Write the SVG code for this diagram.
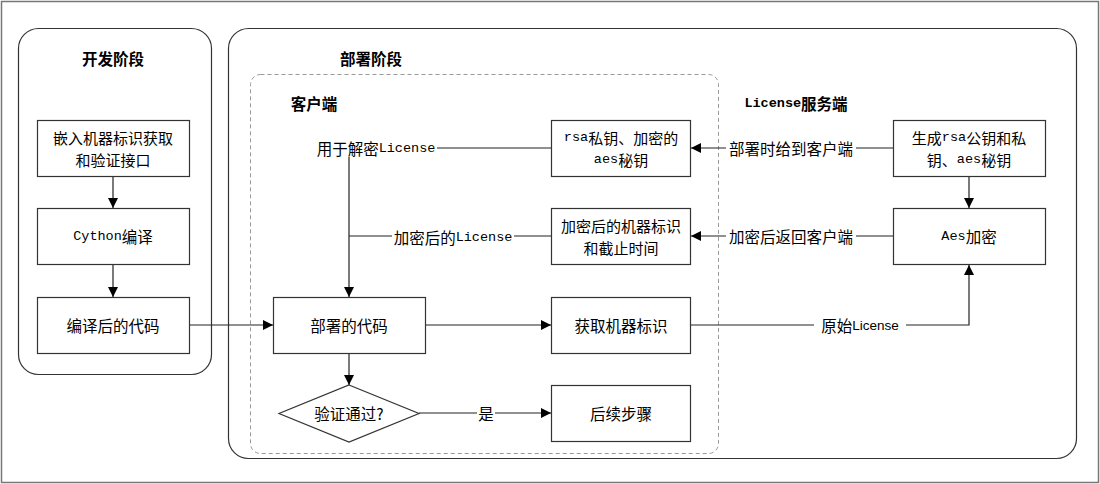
<svg xmlns="http://www.w3.org/2000/svg" width="1100" height="484" viewBox="0 0 1100 484">
<defs>
<style>
text{font-family:"Noto Sans CJK SC","Liberation Mono",sans-serif;font-size:15.5px;fill:#000;text-anchor:middle;dominant-baseline:central}
text.t2{font-size:15px}
.m{font-family:"Liberation Mono","Noto Sans CJK SC",monospace;font-size:13.5px}
.b{font-weight:bold}
.box{fill:#fff;stroke:#333;stroke-width:1.2}
.ln{fill:none;stroke:#222;stroke-width:1.2}
.bg{fill:#fff}
</style>
<marker id="ah" viewBox="0 0 10 10" refX="10" refY="5" markerWidth="10" markerHeight="10" markerUnits="userSpaceOnUse" orient="auto">
<path d="M0,0 L10,5 L0,10 Z" fill="#000"/>
</marker>
</defs>
<rect x="0" y="0" width="1100" height="484" fill="#fff"/>
<rect x="1.5" y="1.5" width="1097" height="481" fill="none" stroke="#777" stroke-width="1.5"/>

<g id="dev-stage">
<rect x="18.5" y="28.5" width="193" height="346" rx="20" fill="none" stroke="#333" stroke-width="1.2"/>
<text class="b" x="113" y="58">开发阶段</text>
</g>
<g id="deploy-stage">
<rect x="228.5" y="28.5" width="848" height="430" rx="20" fill="none" stroke="#333" stroke-width="1.2"/>
<text class="b" x="371" y="58">部署阶段</text>
</g>
<g id="client-area">
<rect x="250.5" y="74.5" width="468" height="379" rx="10" fill="none" stroke="#999" stroke-width="1" stroke-dasharray="4,3"/>
<text class="b" x="314" y="103">客户端</text>
</g>
<g id="server-label">
<text class="b" x="796" y="103"><tspan class="m b">License</tspan>服务端</text>
</g>

<g id="connectors">
<path class="ln" d="M113,177 V208" marker-end="url(#ah)"/>
<path class="ln" d="M113,265 V297" marker-end="url(#ah)"/>
<path class="ln" d="M189,325 H273" marker-end="url(#ah)"/>
<path class="ln" d="M349,353 V385" marker-end="url(#ah)"/>
<path class="ln" d="M419,413 H551" marker-end="url(#ah)"/>
<path class="ln" d="M425,325 H551" marker-end="url(#ah)"/>
<path class="ln" d="M691,325 H969 V265" marker-end="url(#ah)"/>
<path class="ln" d="M969,176 V208" marker-end="url(#ah)"/>
<path class="ln" d="M893,148 H691" marker-end="url(#ah)"/>
<path class="ln" d="M893,236 H691" marker-end="url(#ah)"/>
<path class="ln" d="M552,148 H349 V297" marker-end="url(#ah)"/>
<path class="ln" d="M552,236 H349"/>
<rect class="bg" x="315" y="139" width="122" height="18"/>
<text x="376" y="148">用于解密<tspan class="m">License</tspan></text>
<rect class="bg" x="392" y="227" width="122" height="18"/>
<text x="453" y="237">加密后的<tspan class="m">License</tspan></text>
<rect class="bg" x="726" y="139" width="130" height="18"/>
<text x="791" y="148">部署时给到客户端</text>
<rect class="bg" x="726" y="227" width="130" height="18"/>
<text x="791" y="236">加密后返回客户端</text>
<rect class="bg" x="814" y="316" width="92" height="18"/>
<text x="860" y="325">原始<tspan class="m" style="font-family:'Liberation Sans Narrow','Liberation Sans',sans-serif">License</tspan></text>
<rect class="bg" x="477" y="404" width="18" height="18"/>
<text x="486" y="413">是</text>
</g>

<g id="n-embed">
<rect class="box" x="37.5" y="120.5" width="152" height="56"/>
<text class="t2" x="113" y="137">嵌入机器标识获取<tspan x="113" dy="22">和验证接口</tspan></text>
</g>
<g id="n-cython">
<rect class="box" x="37.5" y="208.5" width="152" height="56"/>
<text x="113" y="236"><tspan class="m">Cython</tspan>编译</text>
</g>
<g id="n-compiled">
<rect class="box" x="37.5" y="297.5" width="152" height="56"/>
<text x="113" y="325">编译后的代码</text>
</g>
<g id="n-deployed">
<rect class="box" x="273.5" y="297.5" width="152" height="56"/>
<text x="349" y="325">部署的代码</text>
</g>
<g id="n-verify">
<path class="box" d="M349,385 L419,413.5 L349,442 L279,413.5 Z"/>
<text x="349" y="413">验证通过?</text>
</g>
<g id="n-keys">
<rect class="box" x="551.5" y="120.5" width="139" height="56"/>
<text class="t2" x="621" y="137"><tspan class="m">rsa</tspan>私钥、加密的<tspan x="621" dy="22" class="m">aes</tspan><tspan>秘钥</tspan></text>
</g>
<g id="n-encid">
<rect class="box" x="551.5" y="208.5" width="139" height="56"/>
<text class="t2" x="621" y="225">加密后的机器标识<tspan x="621" dy="22">和截止时间</tspan></text>
</g>
<g id="n-getid">
<rect class="box" x="551.5" y="297.5" width="139" height="56"/>
<text x="621" y="325">获取机器标识</text>
</g>
<g id="n-next">
<rect class="box" x="551.5" y="385.5" width="139" height="56"/>
<text x="621" y="413">后续步骤</text>
</g>
<g id="n-gen">
<rect class="box" x="893.5" y="120.5" width="152" height="56"/>
<text class="t2" x="969" y="137">生成<tspan class="m">rsa</tspan>公钥和私<tspan x="969" dy="22">钥、</tspan><tspan class="m">aes</tspan><tspan>秘钥</tspan></text>
</g>
<g id="n-aes">
<rect class="box" x="893.5" y="208.5" width="152" height="56"/>
<text x="969" y="236"><tspan class="m">Aes</tspan>加密</text>
</g>
</svg>
